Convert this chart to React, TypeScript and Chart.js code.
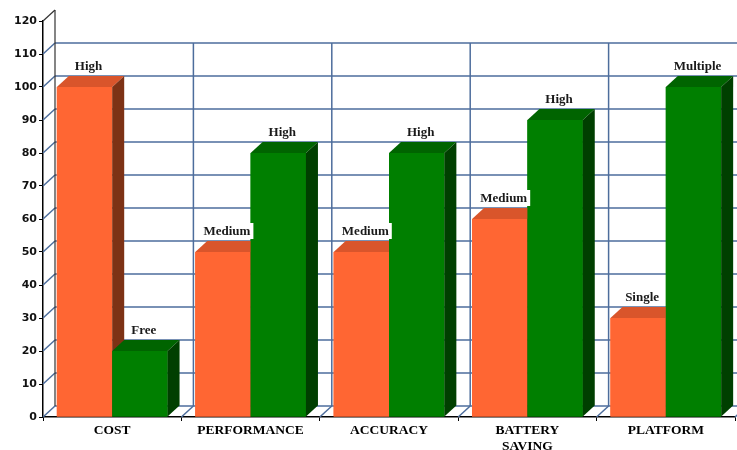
import { useEffect, useRef } from 'react';
import { Chart, registerables } from 'chart.js';

Chart.register(...registerables);

const categories: (string | string[])[] = ['COST', 'PERFORMANCE', 'ACCURACY', ['BATTERY', 'SAVING'], 'PLATFORM'];
const seriesA = [100, 50, 50, 60, 30];
const seriesB = [20, 80, 80, 90, 100];
const labelsA = ['High', 'Medium', 'Medium', 'Medium', 'Single'];
const labelsB = ['Free', 'High', 'High', 'High', 'Multiple'];
const yMin = 0;
const yMax = 120;
const yStep = 10;

const DX = 12;
const DY = -11;
const GRID = '#4d6d9c';
const faceColors = [
  { front: '#ff6633', top: '#d9552b', side: '#7d3215' },
  { front: '#007f00', top: '#006400', side: '#003f00' },
];
const pointLabels = [labelsA, labelsB];

function line(ctx: CanvasRenderingContext2D, x1: number, y1: number, x2: number, y2: number) {
  ctx.beginPath();
  ctx.moveTo(x1, y1);
  ctx.lineTo(x2, y2);
  ctx.stroke();
}

function poly(ctx: CanvasRenderingContext2D, pts: number[][]) {
  ctx.beginPath();
  ctx.moveTo(pts[0][0], pts[0][1]);
  for (let i = 1; i < pts.length; i++) ctx.lineTo(pts[i][0], pts[i][1]);
  ctx.closePath();
  ctx.fill();
}

const wallPlugin = {
  id: 'wall3d',
  beforeDatasetsDraw(chart: any) {
    const { ctx, chartArea, scales } = chart;
    const x = scales.x;
    const y = scales.y;
    const left = chartArea.left;
    const right = chartArea.right;
    ctx.save();
    ctx.strokeStyle = GRID;
    ctx.lineWidth = 1.5;
    const topBack = y.getPixelForValue(yMax - yStep) + DY;
    const y0 = y.getPixelForValue(yMin);
    for (let v = yMin; v < yMax; v += yStep) {
      const py = y.getPixelForValue(v);
      line(ctx, left + DX, py + DY, right + DX + 20, py + DY);
      line(ctx, left, py, left + DX, py + DY);
    }
    for (let i = 1; i <= categories.length; i++) {
      const bx = x.getPixelForValue(i - 0.5);
      line(ctx, bx + DX, y0 + DY, bx + DX, topBack);
      line(ctx, bx, y0, bx + DX, y0 + DY);
    }
    ctx.strokeStyle = '#333';
    ctx.lineWidth = 1.2;
    const pTop = y.getPixelForValue(yMax);
    line(ctx, left, pTop, left + DX, pTop + DY);
    line(ctx, left + DX, pTop + DY, left + DX, y0 + DY);
    ctx.restore();
  },
  afterDatasetsDraw(chart: any) {
    const { ctx } = chart;
    ctx.save();
    const metas = [chart.getDatasetMeta(0), chart.getDatasetMeta(1)];
    for (let i = 0; i < categories.length; i++) {
      metas.forEach((meta: any, di: number) => {
        const bar = meta.data[i];
        const { x, y, base, width } = bar.getProps(['x', 'y', 'base', 'width'], true);
        const l = x - width / 2;
        const r = x + width / 2;
        const c = faceColors[di];
        ctx.fillStyle = c.front;
        ctx.fillRect(l, y, width, base - y);
        ctx.fillStyle = c.top;
        poly(ctx, [[l, y], [r, y], [r + DX, y + DY], [l + DX, y + DY]]);
        ctx.fillStyle = c.side;
        poly(ctx, [[r, y], [r + DX, y + DY], [r + DX, base + DY], [r, base]]);
      });
    }
    ctx.font = 'bold 13px "Liberation Serif", "Times New Roman", serif';
    ctx.textAlign = 'center';
    ctx.textBaseline = 'alphabetic';
    metas.forEach((meta: any, di: number) => {
      meta.data.forEach((bar: any, i: number) => {
        const { x, y } = bar.getProps(['x', 'y'], true);
        const text = pointLabels[di][i];
        const cx = x + 4;
        const baseY = y + DY - 6;
        const w = ctx.measureText(text).width;
        ctx.fillStyle = '#ffffff';
        ctx.fillRect(cx - w / 2 - 3, baseY - 12, w + 6, 16);
        ctx.fillStyle = '#1a1a1a';
        ctx.fillText(text, cx, baseY);
      });
    });
    ctx.restore();
  },
};

export default function App() {
  const ref = useRef<HTMLCanvasElement>(null);
  useEffect(() => {
    if (!ref.current) return;
    const chart = new Chart(ref.current, {
      type: 'bar',
      data: {
        labels: categories as any,
        datasets: [
          { label: 'A', data: seriesA, backgroundColor: faceColors[0].front, borderWidth: 0, categoryPercentage: 0.8, barPercentage: 1 },
          { label: 'B', data: seriesB, backgroundColor: faceColors[1].front, borderWidth: 0, categoryPercentage: 0.8, barPercentage: 1 },
        ],
      },
      options: {
        responsive: false,
        animation: false,
        events: [],
        layout: { padding: { top: 21, right: 2, left: 0, bottom: 0 } },
        plugins: { legend: { display: false }, tooltip: { enabled: false } },
        scales: {
          x: {
            afterFit: (s: any) => { s.height = 33; },
            grid: { drawOnChartArea: false, drawTicks: true, tickLength: 4, color: '#000', offset: true },
            border: { display: true, color: '#000', width: 1.5 },
            ticks: {
              color: '#000',
              padding: 2,
              maxRotation: 0,
              autoSkip: false,
              font: { family: '"Liberation Serif", "Times New Roman", serif', size: 13.5, weight: 'bold', lineHeight: 1.15 },
            },
          },
          y: {
            min: yMin,
            max: yMax,
            afterFit: (s: any) => { s.width = 43; },
            grid: { drawOnChartArea: false, drawTicks: true, tickLength: 4, color: '#000' },
            border: { display: true, color: '#000', width: 1.5 },
            ticks: {
              stepSize: yStep,
              color: '#111',
              padding: 2,
              font: { family: '"DejaVu Sans", Verdana, sans-serif', size: 11, weight: 'bold' },
            },
          },
        },
      },
      plugins: [wallPlugin],
    });
    return () => chart.destroy();
  }, []);
  return (
    <div style={{ position: 'fixed', left: 0, top: 0, width: 737, height: 450, background: '#fff' }}>
      <canvas ref={ref} width={737} height={450} />
    </div>
  );
}
